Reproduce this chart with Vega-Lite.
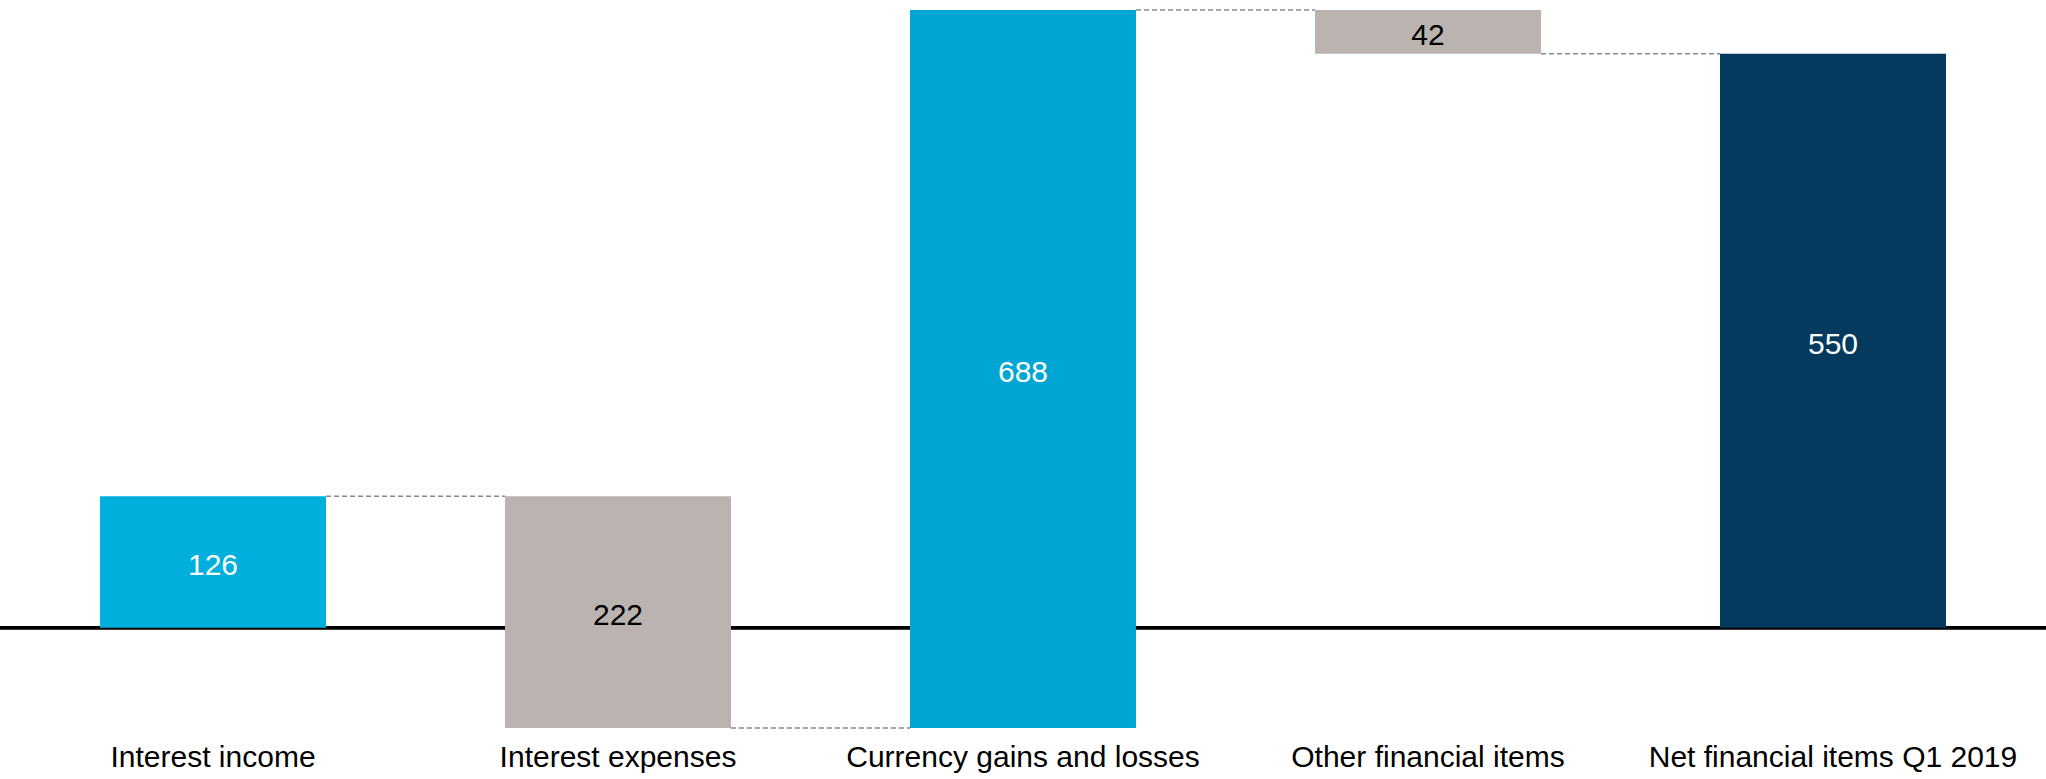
{
  "$schema": "https://vega.github.io/schema/vega-lite/v6.json",
  "width": 2046,
  "height": 718,
  "autosize": {"type": "none"},
  "padding": {"left": 0, "top": 10, "right": 0, "bottom": 51},
  "background": "white",
  "config": {"view": {"stroke": null}, "font": "Liberation Sans"},
  "datasets": {
    "bars": [
      {"cat": "Interest income", "start": 0, "end": 126, "amount": 126},
      {"cat": "Interest expenses", "start": 126, "end": -96, "amount": 222},
      {"cat": "Currency gains and losses", "start": -96, "end": 592, "amount": 688},
      {"cat": "Other financial items", "start": 592, "end": 550, "amount": 42},
      {"cat": "Net financial items Q1 2019", "start": 0, "end": 550, "amount": 550}
    ],
    "links": [
      {"from": "Interest income", "to": "Interest expenses", "level": 126},
      {"from": "Interest expenses", "to": "Currency gains and losses", "level": -96},
      {"from": "Currency gains and losses", "to": "Other financial items", "level": 592},
      {"from": "Other financial items", "to": "Net financial items Q1 2019", "level": 550}
    ]
  },
  "layer": [
    {
      "data": {"name": "bars"},
      "mark": {"type": "rule", "color": "#000000", "strokeWidth": 3},
      "encoding": {
        "y": {"datum": 0, "type": "quantitative", "scale": {"domain": [-96, 592], "nice": false, "zero": false}, "axis": null}
      }
    },
    {
      "data": {"name": "bars"},
      "mark": {"type": "bar", "opacity": 1},
      "encoding": {
        "x": {
          "field": "cat", "type": "nominal", "sort": null,
          "scale": {"paddingInner": 0.442, "paddingOuter": 0.247},
          "axis": {"title": null, "domain": false, "ticks": false, "tickSize": 0, "labelAngle": 0, "labelFontSize": 30, "labelColor": "#000000", "labelPadding": 14, "labelFont": "Liberation Sans", "labelLimit": 0}
        },
        "y": {
          "field": "start", "type": "quantitative",
          "scale": {"domain": [-96, 592], "nice": false, "zero": false},
          "axis": null
        },
        "y2": {"field": "end"},
        "color": {
          "field": "cat", "type": "nominal", "legend": null,
          "scale": {
            "domain": ["Interest income", "Interest expenses", "Currency gains and losses", "Other financial items", "Net financial items Q1 2019"],
            "range": ["#00AFDC", "#BBB3B0", "#00A6D3", "#BBB3B0", "#033A5E"]
          }
        }
      }
    },
    {
      "data": {"name": "links"},
      "mark": {"type": "rule", "color": "#8a8a8a", "strokeWidth": 1.5, "strokeDash": [5, 3]},
      "encoding": {
        "x": {"field": "from", "type": "nominal", "sort": null, "bandPosition": 1},
        "x2": {"field": "to", "bandPosition": 0},
        "y": {"field": "level", "type": "quantitative"}
      }
    },
    {
      "data": {"name": "bars"},
      "transform": [
        {"fold": ["start", "end"], "as": ["edge", "val"]},
        {"aggregate": [{"op": "mean", "field": "val", "as": "mid"}], "groupby": ["cat", "amount"]}
      ],
      "mark": {"type": "text", "fontSize": 30, "baseline": "middle", "align": "center", "dy": 4, "font": "Liberation Sans"},
      "encoding": {
        "x": {"field": "cat", "type": "nominal", "sort": null},
        "y": {"field": "mid", "type": "quantitative"},
        "text": {"field": "amount", "type": "quantitative"},
        "color": {
          "field": "cat", "type": "nominal", "legend": null,
          "scale": {
            "domain": ["Interest income", "Interest expenses", "Currency gains and losses", "Other financial items", "Net financial items Q1 2019"],
            "range": ["#FFFFFF", "#000000", "#FFFFFF", "#000000", "#FFFFFF"]
          }
        }
      }
    }
  ],
  "resolve": {"scale": {"color": "independent"}}
}
